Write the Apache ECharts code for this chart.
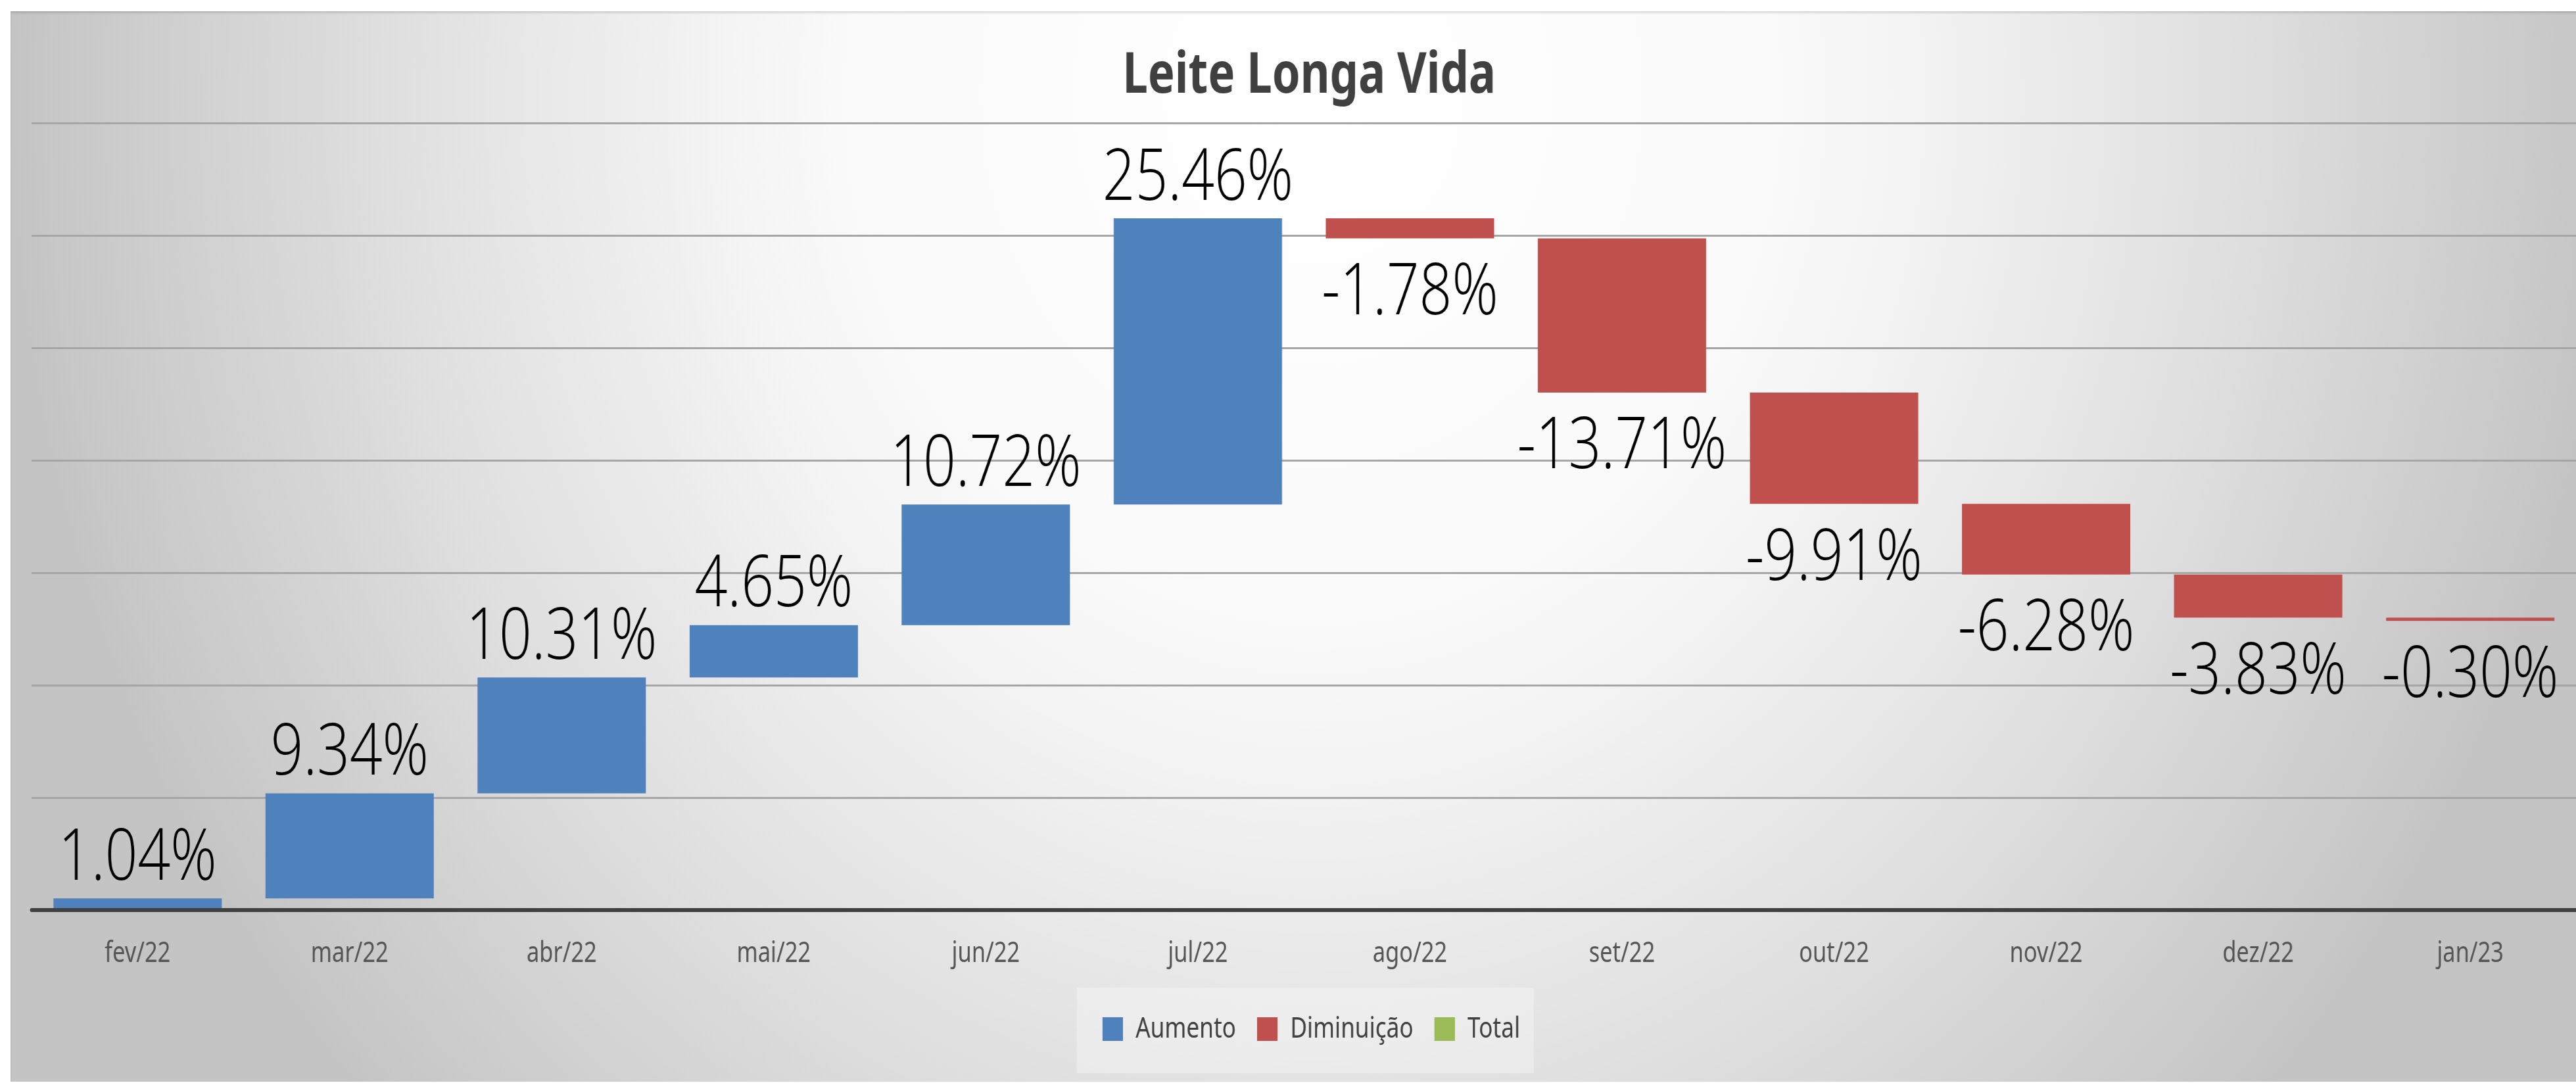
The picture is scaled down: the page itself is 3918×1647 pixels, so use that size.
<!DOCTYPE html>
<html>
<head>
<meta charset="utf-8">
<script src="https://cdn.jsdelivr.net/npm/echarts@6/dist/echarts.min.js"></script>
<style>
html,body{margin:0;padding:0;width:3918px;height:1647px;overflow:hidden;background:#ffffff;}
#bg{position:absolute;left:16px;top:17px;width:3960px;height:1628px;
background:radial-gradient(ellipse 50% 137% at 50% 8%, #ffffff 0%, #fafafa 35%, #f4f4f4 45%, #e0e0e0 70%, #c4c4c4 100%);
box-shadow: inset 0 3px 3px rgba(0,0,0,0.12);}
#chart{position:absolute;left:0;top:0;width:4898px;height:1647px;transform:scaleX(0.8);transform-origin:0 0;}
</style>
</head>
<body>
<div id="bg"></div>
<div id="chart"></div>
<script>
const categories = ['fev/22','mar/22','abr/22','mai/22','jun/22','jul/22','ago/22','set/22','out/22','nov/22','dez/22','jan/23'];
const changes = [1.04, 9.34, 10.31, 4.65, 10.72, 25.46, -1.78, -13.71, -9.91, -6.28, -3.83, -0.30];
const legendNames = ['Aumento', 'Diminuição', 'Total'];
const yMin = 0, yMax = 70, yStep = 10;

const base = [], up = [], down = [];
let cum = 0;
changes.forEach(function (c) {
  if (c >= 0) { base.push(cum); up.push(c); down.push('-'); cum += c; }
  else { cum += c; base.push(cum); up.push('-'); down.push(-c); }
});

const chart = echarts.init(document.getElementById('chart'), null, {renderer: 'canvas'});
const labelFont = {fontFamily: 'Open Sans', fontSize: 109, fontWeight: 300, color: '#000000'};
chart.setOption({
  backgroundColor: 'transparent',
  animation: false,
  title: {
    text: 'Leite Longa Vida',
    left: 2484, top: 68, textAlign: 'center',
    textStyle: {fontFamily: 'Noto Sans', fontWeight: 'bold', fontSize: 86, color: '#404040'}
  },
  legend: {
    data: legendNames,
    left: 2047, top: 1502,
    padding: [41, 26, 45, 49],
    backgroundColor: 'rgba(255,255,255,0.3)',
    itemWidth: 39, itemHeight: 36, itemGap: 40,
    icon: 'rect',
    textStyle: {fontFamily: 'Noto Sans', fontSize: 44, color: '#404040', padding: [0, 0, 0, 19]}
  },
  grid: {left: 60, top: 187, width: 4852, bottom: 263, containLabel: false},
  xAxis: {
    type: 'category', data: categories, z: 5,
    axisLine: {lineStyle: {color: '#404040', width: 6}},
    axisTick: {show: false},
    axisLabel: {fontFamily: 'Noto Sans', fontSize: 43, color: '#555555', margin: 45}
  },
  yAxis: {
    type: 'value', min: yMin, max: yMax, interval: yStep,
    axisLabel: {show: false}, axisLine: {show: false}, axisTick: {show: false},
    splitLine: {lineStyle: {color: '#a6a6a6', width: 3}}
  },
  series: [
    {name: 'base', type: 'bar', stack: 'w', data: base, barWidth: 320, silent: true,
     itemStyle: {color: 'rgba(0,0,0,0)'}, label: {show: false}},
    {name: 'Aumento', type: 'bar', stack: 'w', data: up, barWidth: 320,
     itemStyle: {color: '#4f81bd'},
     label: Object.assign({show: true, position: 'top', distance: 5,
       formatter: function (p) { return p.value.toFixed(2) + '%'; }}, labelFont)},
    {name: 'Diminuição', type: 'bar', stack: 'w', data: down, barWidth: 320,
     itemStyle: {color: '#c0504d'},
     label: Object.assign({show: true, position: 'bottom', distance: 30,
       formatter: function (p) { return '-' + p.value.toFixed(2) + '%'; }}, labelFont)},
    {name: 'Total', type: 'bar', stack: 'w', data: [], barWidth: 320,
     itemStyle: {color: '#9bbb59'}}
  ]
});
</script>
</body>
</html>
